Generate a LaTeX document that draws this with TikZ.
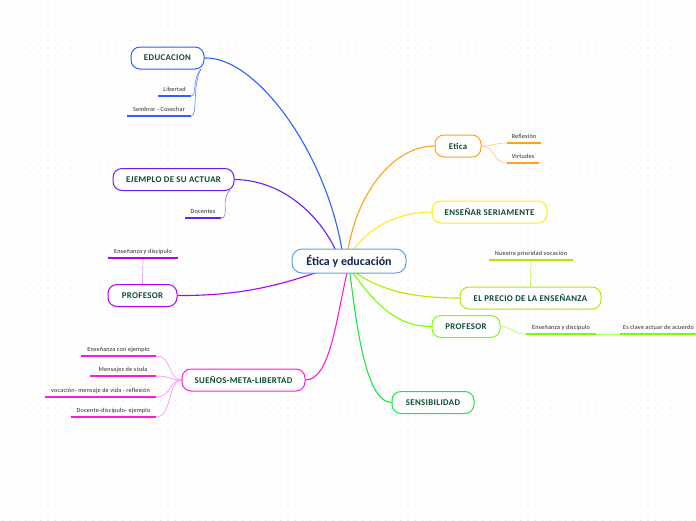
\documentclass[tikz,border=0pt]{standalone}
\usepackage{fontspec}
\setmainfont{Carlito}
\newfontfamily\topicfont[LetterSpace=4]{Carlito}
\newfontfamily\subfont[LetterSpace=3]{Carlito}
\pgfdeclarelayer{background}
\pgfdeclarelayer{grid}
\pgfsetlayers{grid,background,main}
\definecolor{cblue}{HTML}{2962FF}
\definecolor{cviolet}{HTML}{651FFF}
\definecolor{cpurple}{HTML}{AA00FF}
\definecolor{cmagenta}{HTML}{FF1AD9}
\definecolor{corange}{HTML}{FFA21A}
\definecolor{cyellow}{HTML}{FFEA1A}
\definecolor{clime}{HTML}{AEEA00}
\definecolor{cgreen}{HTML}{76FF03}
\definecolor{cgreen2}{HTML}{1AE63C}
\definecolor{ccentral}{HTML}{5BA3DC}
\definecolor{tgreen}{HTML}{0F4A33}
\definecolor{tnavy}{HTML}{0D2454}
\tikzset{
  x=1pt,y=-1pt,
  topic/.style={draw,line width=1pt,rounded corners=9pt,fill=white,text=tgreen,
    font=\topicfont\fontsize{8.8}{10}\selectfont\bfseries,minimum height=22pt,inner sep=0pt,align=center},
  central/.style={draw=ccentral,line width=1pt,rounded corners=10pt,fill=white,text=tnavy,
    font=\fontsize{12}{14}\selectfont\bfseries,minimum height=24pt,minimum width=114pt,inner sep=0pt},
  sub/.style={font=\subfont\fontsize{6.2}{7}\selectfont,text=black!85,inner sep=0pt,minimum height=12pt,anchor=south,align=center},
  uline/.style={line width=1.6pt},
  branch/.style={line width=1.1pt},
  twig/.style={line width=0.7pt},
}
\begin{document}
\begin{tikzpicture}
\useasboundingbox (0,0) rectangle (696,520);
\begin{pgfonlayer}{grid}
\foreach \i in {0,...,92}{\foreach \j in {0,...,69}{
  \fill[black!9] (3+\i*7.5,3+\j*7.5) circle (0.55pt);}}
\end{pgfonlayer}
% central
\node[central] (ctr) at (349,261) {Ética y educación};
% topics
\node[topic,draw=cblue,minimum width=73pt] (edu) at (167.5,58) {EDUCACION};
\node[topic,draw=cviolet,minimum width=121pt] (eje) at (173.5,179.5) {EJEMPLO DE SU ACTUAR};
\node[topic,draw=cpurple,minimum width=69pt] (profl) at (142.5,295.5) {PROFESOR};
\node[topic,draw=cmagenta,minimum width=123pt] (sue) at (243.5,380) {SUEÑOS-META-LIBERTAD};
\node[topic,draw=corange,minimum width=46pt] (eti) at (458,146) {Etica};
\node[topic,draw=cyellow,minimum width=115pt] (ens) at (489.5,212) {ENSEÑAR SERIAMENTE};
\node[topic,draw=clime,minimum width=141pt] (pre) at (530.5,298) {EL PRECIO DE LA ENSEÑANZA};
\node[topic,draw=cgreen,minimum width=68pt] (profr) at (466,326.5) {PROFESOR};
\node[topic,draw=cgreen2,minimum width=82pt] (sen) at (433,402.5) {SENSIBILIDAD};
% sub items (anchor south at underline)
\node[sub,minimum width=33pt] (lib) at (174.5,96) {Libertad};
\node[sub,minimum width=64pt] (sem) at (159,116) {Sembrar - Cosechar};
\node[sub,minimum width=36pt] (doc) at (203,218) {Docentes};
\node[sub,minimum width=70pt] (ensl) at (143,258) {Enseñanza y discipulo};
\node[sub,minimum width=75pt] (s1) at (118.5,356) {Enseñanza con ejemplo};
\node[sub,minimum width=65pt] (s2) at (123,376) {Mensajes de visda};
\node[sub,minimum width=111pt] (s3) at (100.5,397) {vocación- mensaje de vida - reflexión};
\node[sub,minimum width=85pt] (s4) at (113.5,417) {Docente-discípulo- ejemplo};
\node[sub,minimum width=34pt] (ref) at (524,143) {Reflexión};
\node[sub,minimum width=32pt] (vir) at (523,163) {Virtudes};
\node[sub,minimum width=84pt] (nue) at (531,260) {Nuestra prioridad vocación};
\node[sub,minimum width=70pt] (ensr) at (561,334) {Enseñanza y discipulo};
\node[sub,anchor=south west,align=left] (cla) at (620,334) {\hspace*{3pt}Es clave actuar de acuerdo\hspace*{3pt}};
% connector anchor points on the central node
\coordinate (cEdu) at (342,250);
\coordinate (cEje) at (336,251);
\coordinate (cProfL) at (318,272);
\coordinate (cSue) at (347,273);
\coordinate (cEti) at (348,250);
\coordinate (cEns) at (353,250);
\coordinate (cPre) at (356,273);
\coordinate (cProfR) at (353,273);
\coordinate (cSen) at (350,273);
\coordinate (eduBR) at (201,69);
\coordinate (ejeBR) at (230,190);
\begin{pgfonlayer}{background}
\draw[branch,cblue] (edu.east) .. controls (255,56) and (325,150) .. (cEdu);
\draw[branch,cviolet] (eje.east) .. controls (280,180) and (318,212) .. (cEje);
\draw[branch,cpurple] (profl.east) .. controls (240,296) and (280,285) .. (cProfL);
\draw[branch,cmagenta] (sue.east) .. controls (330,380) and (336,320) .. (cSue);
\draw[branch,corange] (cEti) .. controls (358,190) and (395,146) .. (eti.west);
\draw[branch,cyellow] (cEns) .. controls (372,225) and (400,212) .. (ens.west);
\draw[branch,clime] (cPre) .. controls (385,293) and (420,298) .. (pre.west);
\draw[branch,cgreen] (cProfR) .. controls (378,308) and (400,327) .. (profr.west);
\draw[branch,cgreen2] (cSen) .. controls (358,340) and (368,402) .. (sen.west);
% twigs
\draw[twig,cblue!70] (eduBR) .. controls (192,78) and (197,96) .. (lib.south east);
\draw[twig,cblue!70] (eduBR) .. controls (192,85) and (198,116) .. (sem.south east);
\draw[twig,cviolet!60] (ejeBR) .. controls (220,200) and (230,218) .. (doc.south east);
\draw[twig,cpurple!40] (ensl.south) -- (profl.north);
\foreach \s in {s1,s2,s3,s4}{
  \draw[twig,cmagenta!45] (sue.west) .. controls (168,380) and (172,0|-\s.south) .. (\s.south east);}
\draw[twig,corange!55] (eti.east) .. controls (495,146) and (493,143) .. (ref.south west);
\draw[twig,corange!55] (eti.east) .. controls (495,146) and (493,163) .. (vir.south west);
\draw[twig,clime!70] (nue.south) -- (pre.north);
\draw[twig,cgreen!60] (profr.east) .. controls (513,327) and (512,334) .. (ensr.south west);
\draw[twig,cgreen!60] (ensr.south east) -- (cla.south west);
\end{pgfonlayer}
% underlines
\draw[uline,cblue] (lib.south west) -- (lib.south east);
\draw[uline,cblue] (sem.south west) -- (sem.south east);
\draw[uline,cviolet] (doc.south west) -- (doc.south east);
\draw[uline,cpurple] (ensl.south west) -- (ensl.south east);
\foreach \s in {s1,s2,s3,s4}{\draw[uline,cmagenta] (\s.south west) -- (\s.south east);}
\draw[uline,corange] (ref.south west) -- (ref.south east);
\draw[uline,corange] (vir.south west) -- (vir.south east);
\draw[uline,clime] (nue.south west) -- (nue.south east);
\draw[uline,cgreen] (ensr.south west) -- (ensr.south east);
\draw[uline,cgreen] (cla.south west) -- (cla.south east);
\end{tikzpicture}
\end{document}
